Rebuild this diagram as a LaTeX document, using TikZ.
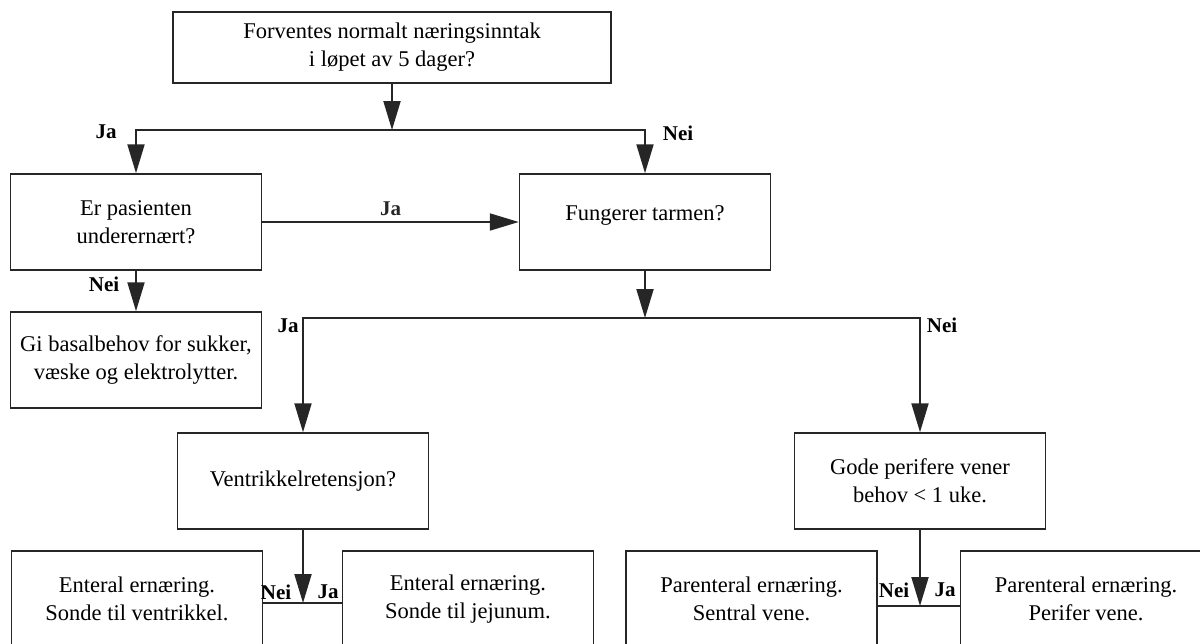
\documentclass[tikz,border=0pt]{standalone}
\usepackage{fontspec}
\setmainfont{Liberation Serif}
\usetikzlibrary{calc}
\usetikzlibrary{arrows, arrows.meta}

\begin{document}
\begin{tikzpicture}[x=1pt, y=-1pt]

\clip (0, 0) rectangle (1200, 643) ;

\def\boxwidth{251}
\def\boxheight{96}

\tikzstyle{question box} =
	[draw=black!85, line width=1.5pt, fill=white, align=center, inner sep=0pt,
	 minimum width=\boxwidth pt, minimum height=\boxheight pt,
	 font=\fontsize{22.5}{28}\selectfont]
\tikzstyle{flow line} =
	[line width=2pt, color=black!85, -{Triangle[length=29pt, width=17pt]}]
\tikzstyle{join line} =
	[line width=2pt, color=black!85]
\tikzstyle{answer} =
	[inner sep=0pt, font=\fontsize{21}{24}\selectfont\bfseries]

% boxes

\node [question box, minimum width=438pt, minimum height=71pt] (start) at (392, 47.5)
	{Forventes normalt næringsinntak\\ i løpet av 5 dager?} ;

\node [question box] (underfed) at (136, 222) {Er pasienten\\ underernært?} ;
\node [question box] (gut) at (645, 222) {\raisebox{7pt}[\height][\depth]{Fungerer tarmen?}} ;
\node [question box] (basal) at (136, 360) {Gi basalbehov for sukker,\\ væske og elektrolytter.} ;
\node [question box] (retention) at (303, 481) {Ventrikkelretensjon?} ;
\node [question box] (veins) at (920, 481) {Gode perifere vener\\ behov < 1 uke.} ;

\node [question box] (enteralvent) at (137, 599) {Enteral ernæring.\\ Sonde til ventrikkel.} ;
\node [question box] (enteraljej) at (468, 599) {Enteral ernæring.\\ Sonde til jejunum.} ;
\node [question box] (parentcentral) at (751.5, 599) {Parenteral ernæring.\\ Sentral vene.} ;
\node [question box] (parentperiph) at (1086, 599) {Parenteral ernæring.\\ Perifer vene.} ;

% first split

\coordinate (split top) at (392, 130) ;

\draw [flow line] (start.south) -- (split top) ;
\draw [flow line] (split top) -| (underfed) ;
\draw [flow line] (split top) -| (gut) ;

\node [answer] (ja top) at (106, 132) {Ja} ;
\node [answer] (nei top) at (678, 133) {Nei} ;

% underfed

\draw [flow line] (underfed) -- (gut)
	node [pos=0.5, above, answer, outer sep=6pt] (ja mid) {Ja} ;
\draw [flow line] (underfed) -- (basal) ;

\node [answer] (nei mid) at (104, 284) {Nei} ;

% second split

\coordinate (split gut) at (645, 318) ;

\draw [flow line] (gut) -- (split gut) ;
\draw [flow line] (split gut) -| (retention) ;
\draw [flow line] (split gut) -| (veins) ;

\node [answer] (ja gut) at (288, 326) {Ja} ;
\node [answer] (nei gut) at (942, 325) {Nei} ;

% bottom joins

\coordinate (join left) at (303, 603) ;
\coordinate (join right) at (920, 606) ;

\draw [flow line] (retention) -- (join left) ;
\draw [join line] (enteralvent.east |- join left) -- (enteraljej.west |- join left) ;

\draw [flow line] (veins) -- (join right) ;
\draw [join line] (parentcentral.east |- join right) -- (parentperiph.west |- join right) ;

\node [answer] (nei left) at (276, 592) {Nei} ;
\node [answer] (ja left) at (328, 592) {Ja} ;
\node [answer] (nei right) at (894, 590) {Nei} ;
\node [answer] (ja right) at (945, 590) {Ja} ;

\end{tikzpicture}
\end{document}
